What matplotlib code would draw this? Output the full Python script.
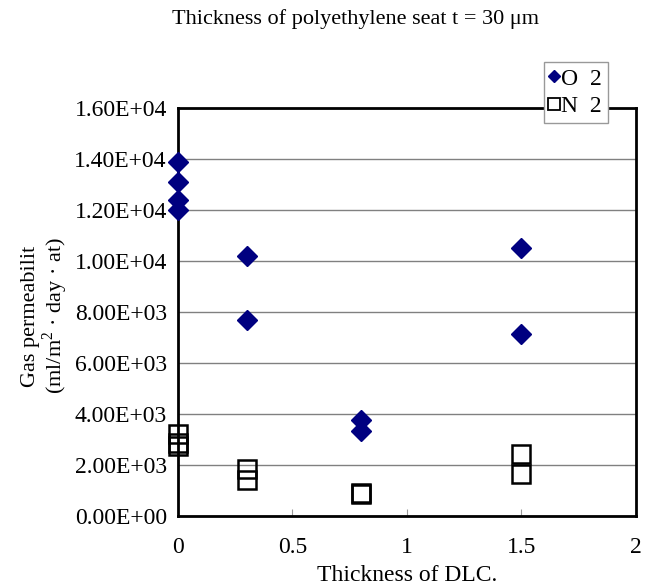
import matplotlib
matplotlib.use('Agg')
import matplotlib.pyplot as plt
from matplotlib.lines import Line2D
import numpy as np

# O2 and N2 permeability vs DLC thickness
o2_x = [0, 0, 0, 0, 0.3, 0.3, 0.8, 0.8, 1.5, 1.5]
o2_y = [13900, 13100, 12400, 12000, 10200, 7700, 3750, 3350, 10500, 7150]
n2_x = [0, 0, 0, 0.3, 0.3, 0.8, 0.8, 1.5, 1.5]
n2_y = [3200, 2850, 2750, 1850, 1400, 900, 850, 2430, 1650]

yticks = np.arange(0, 16001, 2000)
xticks = [0, 0.5, 1, 1.5, 2]
xticklabels = ['0', '0.5', '1', '1.5', '2']
series_names = ['O\u20022', 'N\u20022']

plt.rcParams['font.family'] = ['Liberation Serif', 'DejaVu Serif']
plt.rcParams['mathtext.fontset'] = 'custom'
plt.rcParams['mathtext.rm'] = 'Liberation Serif'

navy = '#000080'

fig = plt.figure(figsize=(6.52, 5.87), dpi=100)
ax = fig.add_axes([0.273, 0.121, 0.702, 0.695])

ax.plot(o2_x, o2_y, linestyle='none', marker='D', ms=10.5,
        color=navy, clip_on=False, zorder=3)
ax.plot(n2_x, n2_y, linestyle='none', marker='s', ms=13.5,
        markerfacecolor='none', markeredgecolor='black', mew=1.8,
        clip_on=False, zorder=3)

ax.set_xlim(0, 2)
ax.set_ylim(0, 16000)
ax.set_xticks(xticks)
ax.set_xticklabels(xticklabels)
ax.set_yticks(yticks)
ax.set_yticklabels([f'{v:.2E}' for v in yticks])
ax.yaxis.grid(True, color='#808080', lw=1)
ax.set_axisbelow(True)
for s in ax.spines.values():
    s.set_linewidth(2)
ax.tick_params(axis='y', length=0, labelsize=17, pad=8)
ax.tick_params(axis='x', direction='in', length=5, color='#999999',
               labelsize=17, pad=15)

ax.set_xlabel('Thickness of DLC.', fontsize=17, va='bottom')
ax.xaxis.set_label_coords(0.5, -0.172)
ax.set_ylabel('Gas permeabilit\n(ml/m$^2$ · day · at)', fontsize=16,
              linespacing=1.05)
ax.yaxis.set_label_coords(-0.235, 0.49)
fig.text(0.545, 0.967, 'Thickness of polyethylene seat t = 30 μm',
         ha='center', va='center', fontsize=16)

handles = [
    Line2D([], [], linestyle='none', marker='D', ms=6, color=navy),
    Line2D([], [], linestyle='none', marker='s', ms=8,
           markerfacecolor='none', markeredgecolor='black', mew=1.3),
]
leg = ax.legend(handles, series_names, loc='upper right',
                bbox_to_anchor=(0.9325, 0.894),
                bbox_transform=fig.transFigure, frameon=True, fancybox=False,
                fontsize=17, handlelength=0.4, handletextpad=0.1,
                borderpad=0.25, labelspacing=0.25, borderaxespad=0,
                framealpha=1)
leg.get_frame().set_edgecolor('#999999')
leg.get_frame().set_linewidth(1)
leg.set_zorder(5)

fig.savefig('out.png', dpi=100)
